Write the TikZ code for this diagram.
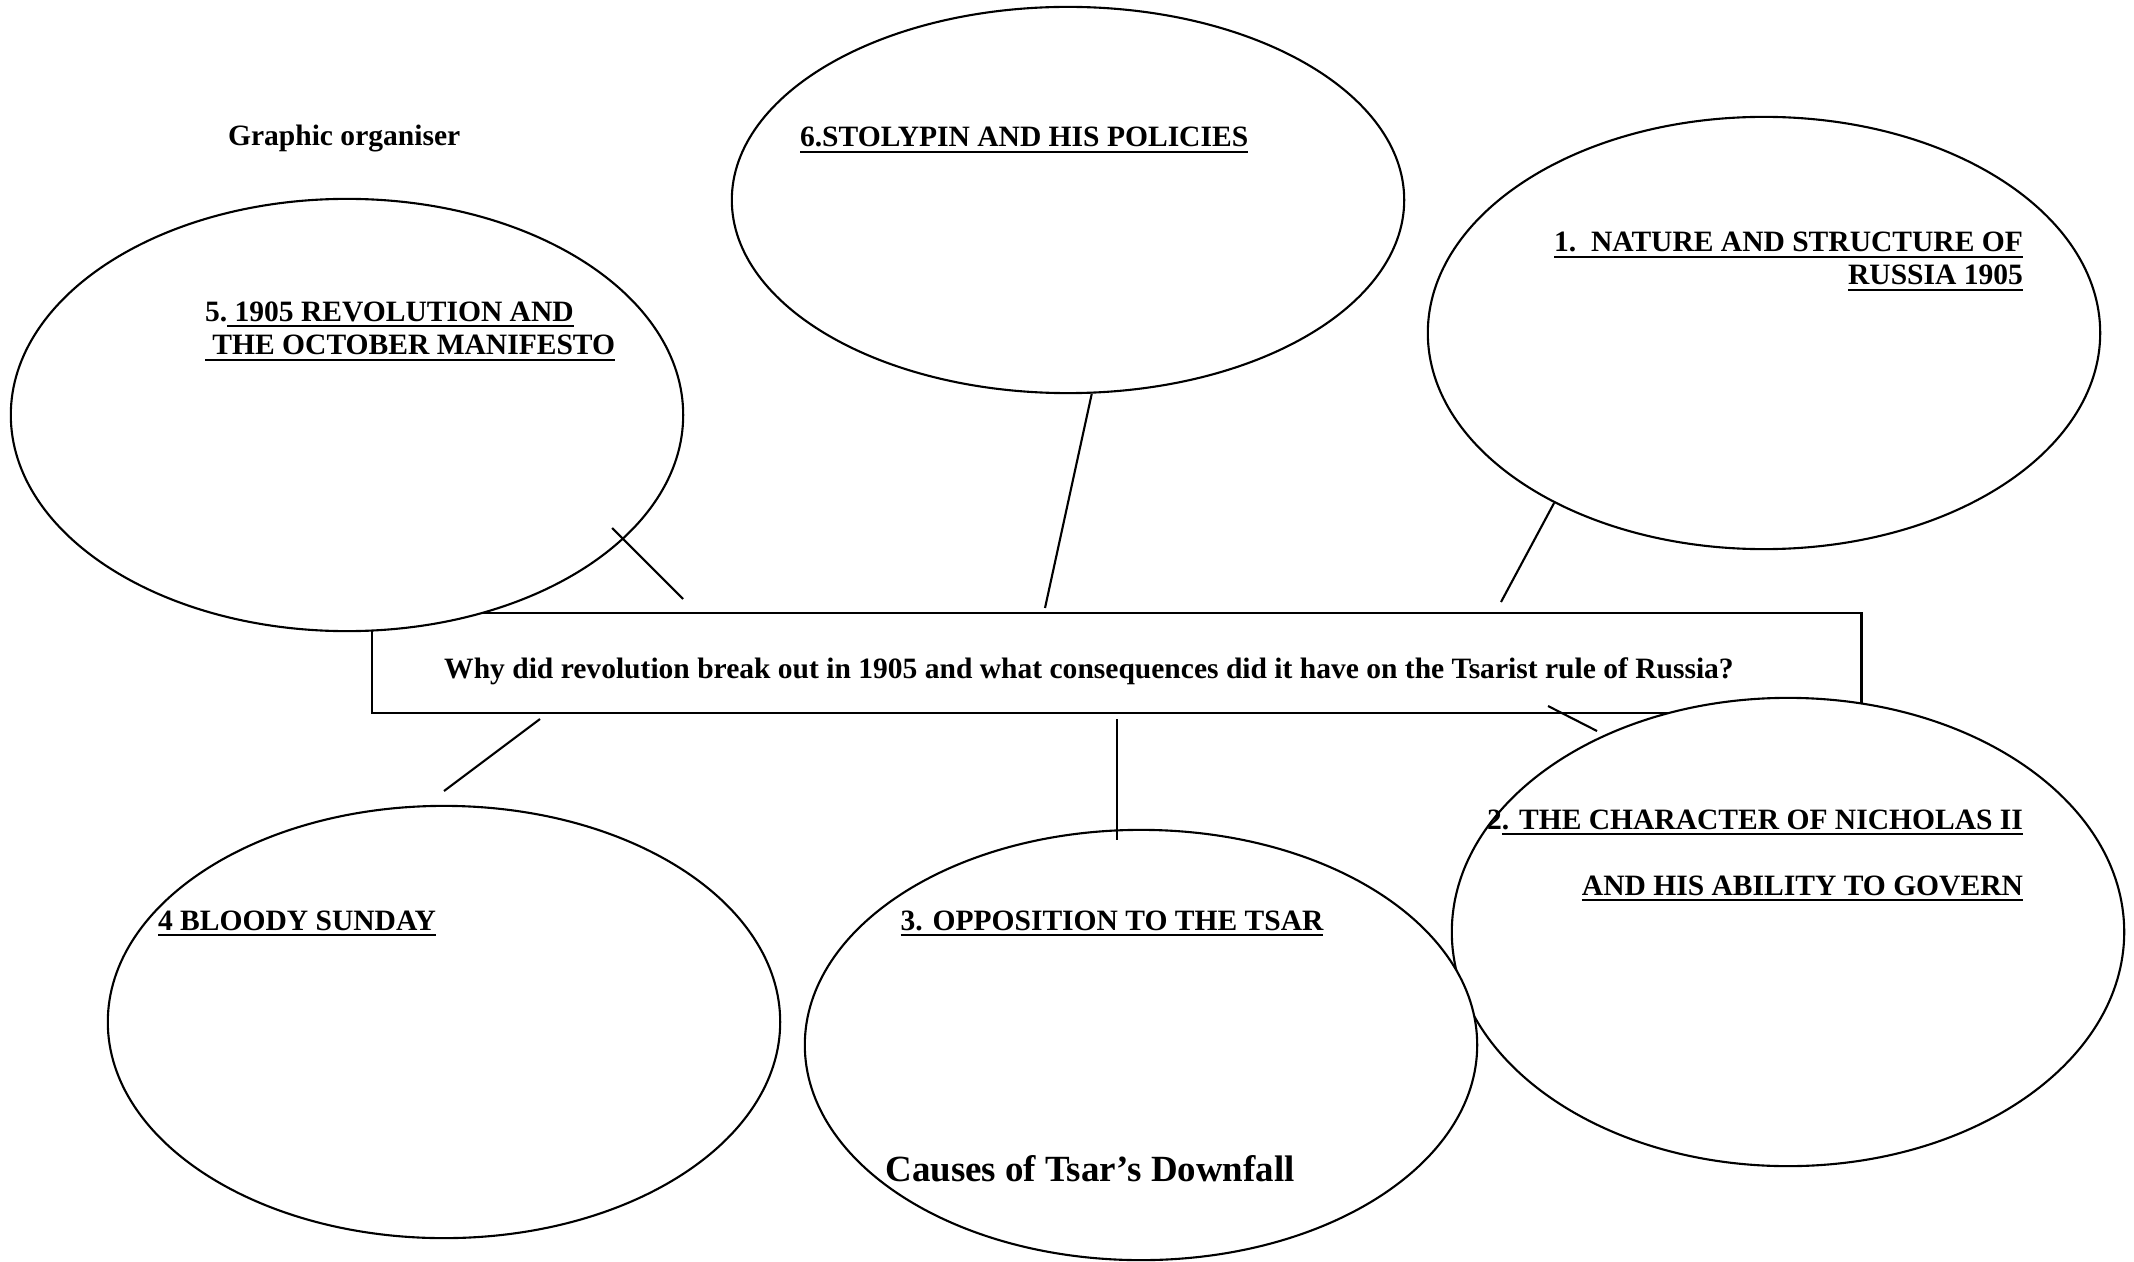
\documentclass[tikz,border=0pt]{standalone}
\usepackage{fontspec}
\setmainfont{Liberation Serif}
\usetikzlibrary{shapes.geometric}
\newlength\ulwd
\newcommand\ulbold[1]{\settowidth\ulwd{#1}\rlap{\rule[-1.7pt]{\ulwd}{0.6pt}}#1}

\begin{document}
\begin{tikzpicture}[x=0.01cm,y=-0.01cm,line width=0.6pt,
  bubble/.style={draw,ellipse,fill=white,minimum width=6.72cm,inner sep=0pt},
  heading/.style={font=\fontsize{8.4}{10}\selectfont\bfseries,inner sep=0pt}]
  \useasboundingbox (0,0) rectangle (2134,1261);
  \node(box)[draw,rectangle,minimum width=14.89cm,minimum height=1cm,inner sep=0pt] at (1116.5,663) {};
  \node(revolution)[bubble,minimum height=4.32cm] at (347,415) {};
  \node(stolypin)[bubble,minimum height=3.86cm] at (1068,200) {};
  \node(nature)[bubble,minimum height=4.32cm] at (1764,333) {};
  \node(character)[bubble,minimum height=4.68cm] at (1788,932) {};
  \node(opposition)[bubble,minimum height=4.30cm] at (1141,1045) {};
  \node(sunday)[bubble,minimum height=4.32cm] at (444,1022) {};
  \coordinate (l5a) at (612,528);
  \coordinate (l5b) at (683,599);
  \coordinate (l6b) at (1045,608);
  \coordinate (l1b) at (1501,602);
  \coordinate (l2a) at (1548,706);
  \coordinate (l2b) at (1597,731);
  \coordinate (l4a) at (540,719);
  \coordinate (l4b) at (444,791);
  \coordinate (l3a) at (1117,719);
  \coordinate (l3b) at (1117,840);
  \draw (l5a) -- (l5b);
  \draw (stolypin.-83) -- (l6b);
  \draw (nature.-141) -- (l1b);
  \draw (l2a) -- (l2b);
  \draw (l4a) -- (l4b);
  \draw (l3a) -- (l3b);
  \node(title)[heading,anchor=base west] at (227,146) {Graphic organiser};
  \node(stolypintext)[heading,anchor=base west] at (799,147) {\ulbold{6.STOLYPIN AND HIS POLICIES}};
  \node(naturetext)[heading,anchor=base east] at (2024,252) {\ulbold{1.\ \ NATURE AND STRUCTURE OF}};
  \node(naturetextb)[heading,anchor=base east] at (2024,285) {\ulbold{RUSSIA 1905}};
  \node(revolutiontext)[heading,anchor=base west] at (204,321) {5.\ulbold{ 1905 REVOLUTION AND}};
  \node(revolutiontextb)[heading,anchor=base west] at (204,355) {\ulbold{\ THE OCTOBER MANIFESTO}};
  \node(question)[heading,anchor=base] at (1089,678) {Why did revolution break out in 1905 and what consequences did it have on the Tsarist rule of Russia?};
  \node(charactertext)[heading,anchor=base east] at (2024,829) {2\ulbold{. THE CHARACTER OF NICHOLAS II}};
  \node(charactertextb)[heading,anchor=base east] at (2024,895) {\ulbold{AND HIS ABILITY TO GOVERN}};
  \node(sundaytext)[heading,anchor=base west] at (157,930) {\ulbold{4 BLOODY SUNDAY}};
  \node(oppositiontext)[heading,anchor=base] at (1112,930) {\ulbold{3. OPPOSITION TO THE TSAR}};
  \node(causes)[heading,font=\fontsize{10.5}{12}\selectfont\bfseries,anchor=base] at (1090,1181) {Causes of Tsar’s Downfall};
\end{tikzpicture}
\end{document}
